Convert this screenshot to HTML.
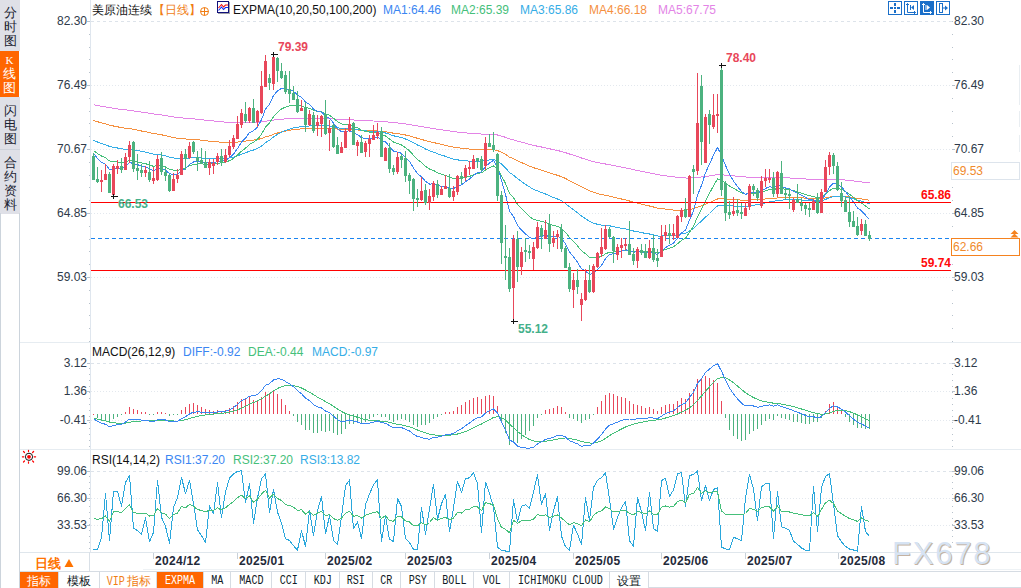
<!DOCTYPE html>
<html><head><meta charset="utf-8">
<style>
html,body{margin:0;padding:0;background:#fff;}
body{width:1021px;height:588px;overflow:hidden;position:relative;font-family:"Liberation Sans",sans-serif;}
.abs{position:absolute;}
.side{position:absolute;left:0;width:20px;background:#dfe0e7;color:#1a2230;font-size:13px;line-height:14px;text-align:center;}
.tab{position:absolute;top:572px;height:16px;border-right:1px solid #d6dce3;box-sizing:border-box;font-family:"Liberation Mono",monospace;font-size:12px;line-height:19px;text-align:center;color:#111a26;background:#fff;white-space:nowrap;overflow:hidden;}
.tab i{font-style:normal;display:inline-block;transform:scaleX(0.84);}
.tab.on{background:#ff6600;color:#fff;}
</style></head>
<body>
<!-- sidebar -->
<div class="side" style="top:0;height:51px;"><div style="padding-top:6px">分<br>时<br>图</div></div>
<div class="side" style="top:51px;height:46px;width:19px;background:#ff6600;color:#fff;"><div style="padding-top:2px"><span style="font-family:'Liberation Serif',serif;font-size:11px">K</span><br>线<br>图</div></div>
<div class="side" style="top:97px;height:52px;"><div style="padding-top:7px">闪<br>电<br>图</div></div>
<div class="side" style="top:149px;height:64px;border-top:1px solid #cdd2da;"><div style="padding-top:6px">合<br>约<br>资<br>料</div></div>

<svg class="abs" style="left:0;top:0" width="1021" height="588" viewBox="0 0 1021 588" font-family="Liberation Sans, sans-serif">
  <g shape-rendering="crispEdges">
    <rect x="0" y="213" width="1" height="375" fill="#ccd4dc"/>
    <rect x="19" y="213" width="1" height="375" fill="#ccd4dc"/>
    <!-- axis vertical -->
    <rect x="90" y="0" width="1" height="552" fill="#dfe6ee"/>
    <!-- separators -->
    <rect x="20" y="342" width="1001" height="1" fill="#e6ecf1"/>
    <rect x="20" y="449" width="1001" height="1" fill="#e6ecf1"/>
    <rect x="20" y="552" width="1001" height="1" fill="#dfe6ec"/>
    <rect x="89" y="552" width="1" height="20" fill="#d9e0e7"/>
    <rect x="143" y="569" width="878" height="1" fill="#eef2f5"/>
    <rect x="20" y="571" width="1001" height="1" fill="#d6dce3"/>
    <rect x="20" y="587" width="1001" height="1" fill="#d6dce3"/>
    <!-- grid main -->
    <line x1="91" y1="21.5" x2="952" y2="21.5" stroke="#dde3ea" stroke-dasharray="3,3"/>
    <line x1="91" y1="85.5" x2="952" y2="85.5" stroke="#e3e8ee" stroke-dasharray="1,2"/>
    <line x1="91" y1="149.5" x2="952" y2="149.5" stroke="#e3e8ee" stroke-dasharray="1,2"/>
    <line x1="91" y1="213.5" x2="952" y2="213.5" stroke="#e3e8ee" stroke-dasharray="1,2"/>
    <line x1="91" y1="277.5" x2="952" y2="277.5" stroke="#e3e8ee" stroke-dasharray="1,2"/>
    <!-- grid macd -->
    <line x1="91" y1="363.5" x2="952" y2="363.5" stroke="#dde3ea" stroke-dasharray="3,3"/>
    <line x1="91" y1="391.5" x2="952" y2="391.5" stroke="#e3e8ee" stroke-dasharray="1,2"/>
    <line x1="91" y1="420.5" x2="952" y2="420.5" stroke="#e3e8ee" stroke-dasharray="1,2"/>
    <!-- grid rsi -->
    <line x1="91" y1="471.5" x2="952" y2="471.5" stroke="#dde3ea" stroke-dasharray="3,3"/>
    <line x1="91" y1="498.5" x2="952" y2="498.5" stroke="#e3e8ee" stroke-dasharray="1,2"/>
    <line x1="91" y1="525.5" x2="952" y2="525.5" stroke="#e3e8ee" stroke-dasharray="1,2"/>
    <!-- right axis ticks -->
    <line x1="952.5" y1="21" x2="952.5" y2="342" stroke="#b8c2cc" stroke-dasharray="1,11.8"/>
    <line x1="952.5" y1="368" x2="952.5" y2="449" stroke="#b8c2cc" stroke-dasharray="1,5"/>
    <line x1="952.5" y1="476" x2="952.5" y2="548" stroke="#b8c2cc" stroke-dasharray="1,5"/>
    <line x1="89.5" y1="21" x2="89.5" y2="342" stroke="#b8c2cc" stroke-dasharray="1,11.8"/>
    <line x1="89.5" y1="368" x2="89.5" y2="449" stroke="#b8c2cc" stroke-dasharray="1,5"/>
    <line x1="89.5" y1="476" x2="89.5" y2="552" stroke="#b8c2cc" stroke-dasharray="1,5"/>
    <g fill="#b8c2cc"><rect x="87" y="21" width="3" height="1"/><rect x="87" y="85" width="3" height="1"/><rect x="952" y="85" width="3" height="1"/><rect x="87" y="149" width="3" height="1"/><rect x="952" y="149" width="3" height="1"/><rect x="87" y="213" width="3" height="1"/><rect x="952" y="213" width="3" height="1"/><rect x="87" y="277" width="3" height="1"/><rect x="952" y="277" width="3" height="1"/><rect x="87" y="363" width="3" height="1"/><rect x="952" y="363" width="3" height="1"/><rect x="87" y="391" width="3" height="1"/><rect x="952" y="391" width="3" height="1"/><rect x="87" y="420" width="3" height="1"/><rect x="952" y="420" width="3" height="1"/><rect x="87" y="471" width="3" height="1"/><rect x="952" y="471" width="3" height="1"/><rect x="87" y="498" width="3" height="1"/><rect x="952" y="498" width="3" height="1"/><rect x="87" y="525" width="3" height="1"/><rect x="952" y="525" width="3" height="1"/></g>
    <!-- date ticks -->
    <g fill="#c9d1d9">
      <rect x="153" y="553" width="1" height="6"/><rect x="237" y="553" width="1" height="6"/><rect x="325" y="553" width="1" height="6"/>
      <rect x="405" y="553" width="1" height="6"/><rect x="489" y="553" width="1" height="6"/><rect x="573" y="553" width="1" height="6"/>
      <rect x="661" y="553" width="1" height="6"/><rect x="745" y="553" width="1" height="6"/><rect x="838" y="553" width="1" height="6"/>
    </g>
  </g>
  <!-- MA lines -->
  <g shape-rendering="crispEdges"><polyline points="93.5,104.7 97.5,105.5 101.5,106.2 105.5,106.9 109.5,107.7 113.5,108.3 117.5,108.9 121.5,109.5 125.5,109.9 129.5,110.3 133.5,110.9 137.5,111.5 141.5,112.1 145.5,112.6 149.5,113.3 153.5,113.9 157.5,114.4 161.5,115.0 165.5,115.6 169.5,116.3 173.5,116.9 177.5,117.5 181.5,117.9 185.5,118.3 189.5,118.5 193.5,118.9 197.5,119.3 201.5,119.7 205.5,120.2 209.5,120.6 213.5,121.0 217.5,121.4 221.5,121.8 225.5,122.1 229.5,122.3 233.5,122.5 237.5,122.5 241.5,122.4 245.5,122.4 249.5,122.2 253.5,122.2 257.5,122.1 261.5,121.8 265.5,121.2 269.5,120.8 273.5,120.1 277.5,119.6 281.5,119.2 285.5,118.9 289.5,118.7 293.5,118.5 297.5,118.4 301.5,118.3 305.5,118.4 309.5,118.3 313.5,118.4 317.5,118.5 321.5,118.4 325.5,118.6 329.5,118.7 333.5,118.9 337.5,119.3 341.5,119.6 345.5,119.7 349.5,119.7 353.5,120.0 357.5,120.2 361.5,120.5 365.5,120.7 369.5,120.9 373.5,121.0 377.5,121.1 381.5,121.5 385.5,121.8 389.5,122.2 393.5,122.7 397.5,123.0 401.5,123.4 405.5,123.9 409.5,124.5 413.5,125.2 417.5,125.9 421.5,126.6 425.5,127.3 429.5,128.0 433.5,128.6 437.5,129.2 441.5,129.8 445.5,130.4 449.5,131.0 453.5,131.6 457.5,132.1 461.5,132.5 465.5,132.9 469.5,133.2 473.5,133.5 477.5,133.7 481.5,134.1 485.5,134.2 489.5,134.3 493.5,134.4 497.5,135.0 501.5,136.1 505.5,137.3 509.5,138.8 513.5,139.8 517.5,141.1 521.5,142.2 525.5,143.2 529.5,144.3 533.5,145.4 537.5,146.2 541.5,147.0 545.5,147.9 549.5,148.8 553.5,149.7 557.5,150.5 561.5,151.5 565.5,152.7 569.5,154.0 573.5,155.3 577.5,156.6 581.5,158.0 585.5,159.2 589.5,160.5 593.5,161.6 597.5,162.5 601.5,163.3 605.5,164.0 609.5,164.7 613.5,165.5 617.5,166.3 621.5,167.1 625.5,167.9 629.5,168.7 633.5,169.7 637.5,170.4 641.5,171.3 645.5,172.1 649.5,172.9 653.5,173.7 657.5,174.6 661.5,175.2 665.5,175.8 669.5,176.3 673.5,176.9 677.5,177.3 681.5,177.6 685.5,178.0 689.5,178.0 693.5,177.9 697.5,177.4 701.5,177.0 705.5,176.4 709.5,175.9 713.5,175.3 717.5,174.7 721.5,174.8 725.5,175.2 729.5,175.6 733.5,175.9 737.5,176.3 741.5,176.6 745.5,177.0 749.5,177.0 753.5,177.2 757.5,177.4 761.5,177.4 765.5,177.4 769.5,177.4 773.5,177.6 777.5,177.5 781.5,177.7 785.5,177.8 789.5,178.0 793.5,178.2 797.5,178.5 801.5,178.7 805.5,179.0 809.5,179.3 813.5,179.5 817.5,179.8 821.5,180.0 825.5,179.8 829.5,179.6 833.5,179.4 837.5,179.5 841.5,179.7 845.5,180.1 849.5,180.5 853.5,180.9 857.5,181.4 861.5,181.9 865.5,182.4 869.5,183.0" fill="none" stroke="#e384e6" stroke-width="1.0" stroke-linejoin="round" />
<polyline points="93.5,120.5 97.5,121.7 101.5,122.9 105.5,123.9 109.5,125.2 113.5,126.0 117.5,126.8 121.5,127.6 125.5,128.2 129.5,128.6 133.5,129.3 137.5,130.1 141.5,131.0 145.5,131.7 149.5,132.7 153.5,133.6 157.5,134.1 161.5,134.8 165.5,135.6 169.5,136.7 173.5,137.5 177.5,138.3 181.5,138.6 185.5,139.0 189.5,139.1 193.5,139.3 197.5,139.7 201.5,140.2 205.5,140.7 209.5,141.2 213.5,141.6 217.5,141.9 221.5,142.3 225.5,142.5 229.5,142.6 233.5,142.5 237.5,142.1 241.5,141.5 245.5,141.1 249.5,140.5 253.5,140.1 257.5,139.5 261.5,138.5 265.5,136.9 269.5,135.8 273.5,134.3 277.5,133.0 281.5,131.9 285.5,131.1 289.5,130.3 293.5,129.7 297.5,129.3 301.5,128.9 305.5,128.8 309.5,128.5 313.5,128.6 317.5,128.4 321.5,128.2 325.5,128.3 329.5,128.3 333.5,128.6 337.5,129.1 341.5,129.5 345.5,129.5 349.5,129.4 353.5,129.7 357.5,129.9 361.5,130.4 365.5,130.6 369.5,130.8 373.5,130.9 377.5,130.9 381.5,131.4 385.5,131.7 389.5,132.4 393.5,133.2 397.5,133.7 401.5,134.2 405.5,135.0 409.5,135.9 413.5,137.1 417.5,138.3 421.5,139.4 425.5,140.6 429.5,141.7 433.5,142.5 437.5,143.5 441.5,144.4 445.5,145.3 449.5,146.3 453.5,147.1 457.5,147.7 461.5,148.3 465.5,148.7 469.5,149.1 473.5,149.3 477.5,149.5 481.5,149.9 485.5,149.7 489.5,149.7 493.5,149.6 497.5,150.5 501.5,152.4 505.5,154.4 509.5,157.1 513.5,158.7 517.5,160.8 521.5,162.6 525.5,164.4 529.5,166.1 533.5,167.7 537.5,168.9 541.5,170.2 545.5,171.4 549.5,172.8 553.5,174.1 557.5,175.3 561.5,176.7 565.5,178.5 569.5,180.7 573.5,182.6 577.5,184.7 581.5,186.9 585.5,188.8 589.5,190.8 593.5,192.3 597.5,193.5 601.5,194.6 605.5,195.2 609.5,196.1 613.5,197.1 617.5,198.1 621.5,199.0 625.5,199.9 629.5,201.0 633.5,202.2 637.5,203.1 641.5,204.1 645.5,205.1 649.5,206.0 653.5,207.0 657.5,208.1 661.5,208.6 665.5,209.1 669.5,209.6 673.5,210.1 677.5,210.2 681.5,210.2 685.5,210.3 689.5,209.6 693.5,208.8 697.5,207.1 701.5,205.8 705.5,204.1 709.5,202.5 713.5,200.8 717.5,199.0 721.5,198.8 725.5,199.1 729.5,199.4 733.5,199.6 737.5,199.9 741.5,200.1 745.5,200.3 749.5,200.0 753.5,199.8 757.5,199.7 761.5,199.4 765.5,198.9 769.5,198.5 773.5,198.4 777.5,197.9 781.5,197.8 785.5,197.7 789.5,197.7 793.5,197.7 797.5,197.8 801.5,197.9 805.5,198.1 809.5,198.3 813.5,198.4 817.5,198.7 821.5,198.5 825.5,197.9 829.5,197.1 833.5,196.4 837.5,196.3 841.5,196.4 845.5,196.6 849.5,197.1 853.5,197.7 857.5,198.4 861.5,198.9 865.5,199.6 869.5,200.4" fill="none" stroke="#f5903f" stroke-width="1.0" stroke-linejoin="round" />
<polyline points="93.5,140.4 97.5,142.0 101.5,143.5 105.5,144.7 109.5,146.5 113.5,147.3 117.5,148.0 121.5,148.9 125.5,149.2 129.5,149.0 133.5,149.8 137.5,150.5 141.5,151.4 145.5,152.1 149.5,153.2 153.5,154.1 157.5,154.3 161.5,155.0 165.5,155.8 169.5,157.1 173.5,158.0 177.5,158.6 181.5,158.5 185.5,158.4 189.5,158.0 193.5,157.7 197.5,157.8 201.5,158.0 205.5,158.3 209.5,158.5 213.5,158.7 217.5,158.5 221.5,158.6 225.5,158.5 229.5,158.0 233.5,157.2 237.5,155.9 241.5,154.2 245.5,152.9 249.5,151.1 253.5,150.0 257.5,148.5 261.5,146.0 265.5,142.7 269.5,140.3 273.5,137.0 277.5,134.4 281.5,132.2 285.5,130.5 289.5,129.1 293.5,127.9 297.5,127.2 301.5,126.5 305.5,126.4 309.5,125.9 313.5,126.1 317.5,125.9 321.5,125.5 325.5,125.8 329.5,125.9 333.5,126.7 337.5,127.7 341.5,128.5 345.5,128.6 349.5,128.4 353.5,129.0 357.5,129.5 361.5,130.4 365.5,130.9 369.5,131.2 373.5,131.4 377.5,131.4 381.5,132.3 385.5,133.0 389.5,134.3 393.5,135.8 397.5,136.6 401.5,137.5 405.5,139.0 409.5,140.6 413.5,142.8 417.5,145.0 421.5,146.8 425.5,149.0 429.5,150.8 433.5,152.1 437.5,153.7 441.5,155.1 445.5,156.3 449.5,157.9 453.5,159.2 457.5,159.8 461.5,160.6 465.5,160.8 469.5,161.1 473.5,161.0 477.5,161.0 481.5,161.3 485.5,160.6 489.5,160.0 493.5,159.6 497.5,161.0 501.5,164.1 505.5,167.8 509.5,172.5 513.5,175.1 517.5,178.7 521.5,181.5 525.5,184.3 529.5,186.9 533.5,189.3 537.5,190.8 541.5,192.5 545.5,194.0 549.5,195.9 553.5,197.5 557.5,199.0 561.5,200.9 565.5,203.5 569.5,206.8 573.5,209.7 577.5,212.7 581.5,216.0 585.5,218.6 589.5,221.4 593.5,223.1 597.5,224.3 601.5,225.2 605.5,225.4 609.5,225.8 613.5,226.7 617.5,227.5 621.5,228.2 625.5,228.8 629.5,229.8 633.5,231.0 637.5,231.7 641.5,232.5 645.5,233.5 649.5,234.0 653.5,235.0 657.5,236.0 661.5,236.0 665.5,235.8 669.5,235.8 673.5,235.7 677.5,234.9 681.5,233.9 685.5,233.2 689.5,231.0 693.5,228.6 697.5,224.5 701.5,221.2 705.5,217.1 709.5,213.5 713.5,209.6 717.5,205.9 721.5,205.2 725.5,205.5 729.5,205.8 733.5,206.0 737.5,206.2 741.5,206.5 745.5,206.6 749.5,205.8 753.5,205.1 757.5,204.8 761.5,203.9 765.5,202.8 769.5,201.9 773.5,201.5 777.5,200.4 781.5,200.1 785.5,199.8 789.5,199.6 793.5,199.7 797.5,199.8 801.5,200.0 805.5,200.3 809.5,200.6 813.5,200.6 817.5,201.1 821.5,200.7 825.5,199.4 829.5,197.7 833.5,196.4 837.5,196.1 841.5,196.2 845.5,196.8 849.5,197.8 853.5,198.9 857.5,200.3 861.5,201.2 865.5,202.5 869.5,203.9" fill="none" stroke="#35ade6" stroke-width="1.0" stroke-linejoin="round" />
<polyline points="93.5,150.6 97.5,153.5 101.5,156.0 105.5,157.7 109.5,161.0 113.5,161.5 117.5,161.9 121.5,162.6 125.5,162.0 129.5,160.4 133.5,161.1 137.5,162.0 141.5,162.9 145.5,163.6 149.5,165.1 153.5,166.3 157.5,165.6 161.5,166.1 165.5,167.0 169.5,169.2 173.5,170.1 177.5,170.6 181.5,169.0 185.5,167.9 189.5,165.9 193.5,164.4 197.5,164.0 201.5,163.9 205.5,164.2 209.5,164.0 213.5,163.9 217.5,163.2 221.5,162.9 225.5,162.2 229.5,160.6 233.5,158.5 237.5,155.2 241.5,151.2 245.5,148.2 249.5,144.4 253.5,142.3 257.5,139.3 261.5,134.2 265.5,127.2 269.5,122.9 273.5,116.6 277.5,112.2 281.5,108.9 285.5,107.2 289.5,105.8 293.5,105.2 297.5,105.7 301.5,105.9 305.5,107.7 309.5,108.3 313.5,110.3 317.5,111.4 321.5,111.9 325.5,113.9 329.5,115.2 333.5,118.2 337.5,121.5 341.5,123.9 345.5,124.6 349.5,124.5 353.5,126.4 357.5,127.9 361.5,130.2 365.5,131.4 369.5,132.1 373.5,132.4 377.5,132.4 381.5,134.6 385.5,135.9 389.5,138.9 393.5,142.0 397.5,143.4 401.5,144.9 405.5,147.8 409.5,150.8 413.5,155.3 417.5,159.5 421.5,162.5 425.5,166.3 429.5,169.1 433.5,170.4 437.5,172.7 441.5,174.2 445.5,175.3 449.5,177.3 453.5,178.6 457.5,178.4 461.5,178.3 465.5,177.3 469.5,176.4 473.5,174.7 477.5,173.3 481.5,172.9 485.5,170.0 489.5,167.8 493.5,166.0 497.5,168.7 501.5,175.7 505.5,183.5 509.5,193.4 513.5,197.8 517.5,204.3 521.5,208.8 525.5,212.8 529.5,216.6 533.5,219.5 537.5,220.2 541.5,221.6 545.5,222.4 549.5,224.3 553.5,225.6 557.5,226.4 561.5,228.5 565.5,232.2 569.5,237.5 573.5,241.5 577.5,245.8 581.5,250.8 585.5,253.6 589.5,257.2 593.5,258.0 597.5,257.5 601.5,256.5 605.5,253.9 609.5,252.2 613.5,252.0 617.5,251.5 621.5,250.9 625.5,250.2 629.5,250.6 633.5,251.5 637.5,251.3 641.5,251.3 645.5,251.9 649.5,251.5 653.5,252.2 657.5,253.0 661.5,251.3 665.5,249.5 669.5,248.1 673.5,246.7 677.5,243.8 681.5,240.5 685.5,238.2 689.5,232.3 693.5,226.4 697.5,216.6 701.5,209.4 705.5,200.6 709.5,193.3 713.5,185.8 717.5,179.0 721.5,180.0 725.5,183.0 729.5,186.0 733.5,188.3 737.5,190.6 741.5,192.7 745.5,194.2 749.5,193.4 753.5,193.0 757.5,193.4 761.5,192.2 765.5,190.8 769.5,189.6 773.5,189.9 777.5,188.2 781.5,188.7 785.5,189.2 789.5,189.7 793.5,190.7 797.5,191.8 801.5,193.1 805.5,194.5 809.5,195.9 813.5,196.3 817.5,197.8 821.5,197.3 825.5,194.4 829.5,190.6 833.5,188.2 837.5,188.3 841.5,189.4 845.5,191.5 849.5,194.3 853.5,197.3 857.5,200.8 861.5,203.0 865.5,206.0 869.5,209.1" fill="none" stroke="#45c07a" stroke-width="1.0" stroke-linejoin="round" />
<polyline points="93.5,153.3 97.5,158.3 101.5,162.3 105.5,164.4 109.5,169.4 113.5,168.8 117.5,168.3 121.5,168.4 125.5,166.3 129.5,162.5 133.5,163.5 137.5,164.7 141.5,166.0 145.5,166.7 149.5,169.0 153.5,170.6 157.5,168.5 161.5,168.9 165.5,170.0 169.5,173.7 173.5,174.6 177.5,174.7 181.5,170.9 185.5,168.6 189.5,164.5 193.5,162.0 197.5,161.7 201.5,161.9 205.5,162.8 209.5,162.7 213.5,162.7 217.5,161.5 221.5,161.4 225.5,160.3 229.5,157.7 233.5,154.1 237.5,148.6 241.5,142.1 245.5,138.1 249.5,132.6 253.5,130.7 257.5,127.1 261.5,119.6 265.5,109.0 269.5,104.1 273.5,95.5 277.5,90.9 281.5,88.4 285.5,88.8 289.5,89.6 293.5,91.3 297.5,94.9 301.5,97.3 305.5,102.1 309.5,104.3 313.5,109.0 317.5,111.3 321.5,112.2 325.5,116.0 329.5,118.2 333.5,123.2 337.5,128.6 341.5,132.0 345.5,131.8 349.5,130.4 353.5,132.9 357.5,134.5 361.5,137.7 365.5,138.7 369.5,138.7 373.5,138.0 377.5,136.9 381.5,140.4 385.5,141.8 389.5,146.6 393.5,151.0 397.5,152.1 401.5,153.3 405.5,157.3 409.5,161.4 413.5,168.1 417.5,173.7 421.5,176.8 425.5,181.4 429.5,184.1 433.5,183.9 437.5,185.7 441.5,186.3 445.5,186.3 449.5,188.0 453.5,188.6 457.5,186.3 461.5,184.8 465.5,181.7 469.5,179.0 473.5,175.4 477.5,172.6 481.5,171.9 485.5,166.7 489.5,162.9 493.5,160.4 497.5,166.7 501.5,180.4 505.5,194.3 509.5,211.3 513.5,216.4 517.5,225.4 521.5,230.2 525.5,234.0 529.5,237.3 533.5,239.0 537.5,236.9 541.5,236.5 545.5,235.3 549.5,236.7 553.5,237.0 557.5,236.4 561.5,238.5 565.5,243.7 569.5,251.8 573.5,256.9 577.5,262.2 581.5,268.9 585.5,270.9 589.5,274.6 593.5,273.0 597.5,269.4 601.5,265.3 605.5,258.7 609.5,254.6 613.5,253.7 617.5,252.5 621.5,251.1 625.5,249.8 629.5,250.6 633.5,252.3 637.5,251.7 641.5,251.8 645.5,252.7 649.5,251.9 653.5,253.2 657.5,254.4 661.5,251.1 665.5,247.6 669.5,245.3 673.5,243.1 677.5,238.1 681.5,233.0 685.5,229.9 689.5,220.1 693.5,211.2 697.5,195.2 701.5,185.3 705.5,172.9 709.5,164.0 713.5,155.1 717.5,147.6 721.5,155.1 725.5,165.5 729.5,174.3 733.5,181.0 737.5,186.6 741.5,191.4 745.5,194.4 749.5,192.9 753.5,192.2 757.5,193.1 761.5,190.9 765.5,188.5 769.5,186.6 773.5,187.8 777.5,184.9 781.5,186.4 785.5,187.8 789.5,189.1 793.5,191.1 797.5,193.1 801.5,195.2 805.5,197.5 809.5,199.6 813.5,199.9 817.5,202.1 821.5,200.2 825.5,194.2 829.5,187.1 833.5,183.1 837.5,184.1 841.5,187.0 845.5,191.4 849.5,196.8 853.5,202.1 857.5,207.9 861.5,210.8 865.5,215.2 869.5,219.4" fill="none" stroke="#3a86f2" stroke-width="1.0" stroke-linejoin="round" /></g>
  <!-- support lines -->
  <g shape-rendering="crispEdges">
    <rect x="91" y="202" width="860" height="1" fill="#ff0000"/>
    <rect x="91" y="270" width="860" height="1" fill="#ff0000"/>
    <line x1="91" y1="238.5" x2="952" y2="238.5" stroke="#1a84f0" stroke-width="1" stroke-dasharray="4,3"/>
  </g>
  <g shape-rendering="crispEdges"><rect x="93" y="153" width="1" height="27" fill="#4cb27f"/>
<rect x="92" y="156" width="3" height="24" fill="#4cb27f"/>
<rect x="97" y="167" width="1" height="16" fill="#4cb27f"/>
<rect x="96" y="179" width="3" height="3" fill="#4cb27f"/>
<rect x="101" y="170" width="1" height="22" fill="#e8475a"/>
<rect x="100" y="180" width="3" height="2" fill="#e8475a"/>
<rect x="105" y="164" width="1" height="16" fill="#e8475a"/>
<rect x="104" y="174" width="3" height="6" fill="#e8475a"/>
<rect x="109" y="172" width="1" height="21" fill="#4cb27f"/>
<rect x="108" y="174" width="3" height="19" fill="#4cb27f"/>
<rect x="113" y="164" width="1" height="31" fill="#e8475a"/>
<rect x="112" y="166" width="3" height="29" fill="#e8475a"/>
<rect x="117" y="160" width="1" height="14" fill="#e8475a"/>
<rect x="116" y="166" width="3" height="3" fill="#e8475a"/>
<rect x="121" y="158" width="1" height="15" fill="#4cb27f"/>
<rect x="120" y="166" width="3" height="4" fill="#4cb27f"/>
<rect x="125" y="153" width="1" height="17" fill="#e8475a"/>
<rect x="124" y="157" width="3" height="13" fill="#e8475a"/>
<rect x="129" y="141" width="1" height="22" fill="#e8475a"/>
<rect x="128" y="145" width="3" height="12" fill="#e8475a"/>
<rect x="133" y="141" width="1" height="31" fill="#4cb27f"/>
<rect x="132" y="142" width="3" height="27" fill="#4cb27f"/>
<rect x="137" y="154" width="1" height="26" fill="#4cb27f"/>
<rect x="136" y="168" width="3" height="3" fill="#4cb27f"/>
<rect x="141" y="164" width="1" height="13" fill="#4cb27f"/>
<rect x="140" y="170" width="3" height="3" fill="#4cb27f"/>
<rect x="145" y="166" width="1" height="11" fill="#e8475a"/>
<rect x="144" y="170" width="3" height="3" fill="#e8475a"/>
<rect x="149" y="161" width="1" height="21" fill="#4cb27f"/>
<rect x="148" y="172" width="3" height="8" fill="#4cb27f"/>
<rect x="153" y="167" width="1" height="17" fill="#e8475a"/>
<rect x="152" y="178" width="3" height="3" fill="#e8475a"/>
<rect x="157" y="155" width="1" height="26" fill="#e8475a"/>
<rect x="156" y="159" width="3" height="21" fill="#e8475a"/>
<rect x="161" y="152" width="1" height="23" fill="#4cb27f"/>
<rect x="160" y="158" width="3" height="14" fill="#4cb27f"/>
<rect x="165" y="167" width="1" height="14" fill="#4cb27f"/>
<rect x="164" y="172" width="3" height="4" fill="#4cb27f"/>
<rect x="169" y="174" width="1" height="18" fill="#4cb27f"/>
<rect x="168" y="175" width="3" height="16" fill="#4cb27f"/>
<rect x="173" y="173" width="1" height="18" fill="#e8475a"/>
<rect x="172" y="179" width="3" height="12" fill="#e8475a"/>
<rect x="177" y="169" width="1" height="14" fill="#e8475a"/>
<rect x="176" y="175" width="3" height="4" fill="#e8475a"/>
<rect x="181" y="151" width="1" height="24" fill="#e8475a"/>
<rect x="180" y="154" width="3" height="21" fill="#e8475a"/>
<rect x="185" y="149" width="1" height="21" fill="#4cb27f"/>
<rect x="184" y="154" width="3" height="5" fill="#4cb27f"/>
<rect x="189" y="142" width="1" height="17" fill="#e8475a"/>
<rect x="188" y="146" width="3" height="12" fill="#e8475a"/>
<rect x="193" y="141" width="1" height="13" fill="#4cb27f"/>
<rect x="192" y="142" width="3" height="10" fill="#4cb27f"/>
<rect x="197" y="151" width="1" height="20" fill="#4cb27f"/>
<rect x="196" y="157" width="3" height="4" fill="#4cb27f"/>
<rect x="201" y="148" width="1" height="16" fill="#4cb27f"/>
<rect x="200" y="160" width="3" height="4" fill="#4cb27f"/>
<rect x="205" y="151" width="1" height="17" fill="#4cb27f"/>
<rect x="204" y="162" width="3" height="6" fill="#4cb27f"/>
<rect x="209" y="159" width="1" height="16" fill="#e8475a"/>
<rect x="208" y="162" width="3" height="6" fill="#e8475a"/>
<rect x="213" y="159" width="1" height="15" fill="#e8475a"/>
<rect x="212" y="163" width="3" height="3" fill="#e8475a"/>
<rect x="217" y="153" width="1" height="12" fill="#e8475a"/>
<rect x="216" y="156" width="3" height="6" fill="#e8475a"/>
<rect x="221" y="149" width="1" height="17" fill="#4cb27f"/>
<rect x="220" y="156" width="3" height="6" fill="#4cb27f"/>
<rect x="225" y="149" width="1" height="14" fill="#e8475a"/>
<rect x="224" y="155" width="3" height="7" fill="#e8475a"/>
<rect x="229" y="140" width="1" height="17" fill="#e8475a"/>
<rect x="228" y="146" width="3" height="9" fill="#e8475a"/>
<rect x="233" y="135" width="1" height="14" fill="#e8475a"/>
<rect x="232" y="138" width="3" height="9" fill="#e8475a"/>
<rect x="237" y="116" width="1" height="23" fill="#e8475a"/>
<rect x="236" y="124" width="3" height="15" fill="#e8475a"/>
<rect x="241" y="109" width="1" height="19" fill="#e8475a"/>
<rect x="240" y="113" width="3" height="12" fill="#e8475a"/>
<rect x="245" y="102" width="1" height="21" fill="#4cb27f"/>
<rect x="244" y="114" width="3" height="7" fill="#4cb27f"/>
<rect x="249" y="107" width="1" height="16" fill="#e8475a"/>
<rect x="248" y="108" width="3" height="13" fill="#e8475a"/>
<rect x="253" y="99" width="1" height="24" fill="#4cb27f"/>
<rect x="252" y="108" width="3" height="15" fill="#4cb27f"/>
<rect x="257" y="110" width="1" height="17" fill="#e8475a"/>
<rect x="256" y="111" width="3" height="11" fill="#e8475a"/>
<rect x="261" y="71" width="1" height="43" fill="#e8475a"/>
<rect x="260" y="86" width="3" height="27" fill="#e8475a"/>
<rect x="265" y="55" width="1" height="32" fill="#e8475a"/>
<rect x="264" y="61" width="3" height="26" fill="#e8475a"/>
<rect x="269" y="74" width="1" height="16" fill="#4cb27f"/>
<rect x="268" y="78" width="3" height="5" fill="#4cb27f"/>
<rect x="273" y="54" width="1" height="36" fill="#e8475a"/>
<rect x="272" y="57" width="3" height="27" fill="#e8475a"/>
<rect x="277" y="57" width="1" height="25" fill="#4cb27f"/>
<rect x="276" y="58" width="3" height="13" fill="#4cb27f"/>
<rect x="281" y="63" width="1" height="16" fill="#4cb27f"/>
<rect x="280" y="71" width="3" height="7" fill="#4cb27f"/>
<rect x="285" y="71" width="1" height="23" fill="#4cb27f"/>
<rect x="284" y="75" width="3" height="17" fill="#4cb27f"/>
<rect x="289" y="71" width="1" height="32" fill="#4cb27f"/>
<rect x="288" y="89" width="3" height="5" fill="#4cb27f"/>
<rect x="293" y="86" width="1" height="14" fill="#4cb27f"/>
<rect x="292" y="93" width="3" height="7" fill="#4cb27f"/>
<rect x="297" y="91" width="1" height="22" fill="#4cb27f"/>
<rect x="296" y="99" width="3" height="13" fill="#4cb27f"/>
<rect x="301" y="100" width="1" height="11" fill="#e8475a"/>
<rect x="300" y="108" width="3" height="3" fill="#e8475a"/>
<rect x="305" y="102" width="1" height="30" fill="#4cb27f"/>
<rect x="304" y="107" width="3" height="18" fill="#4cb27f"/>
<rect x="309" y="110" width="1" height="16" fill="#e8475a"/>
<rect x="308" y="114" width="3" height="11" fill="#e8475a"/>
<rect x="313" y="112" width="1" height="21" fill="#4cb27f"/>
<rect x="312" y="115" width="3" height="16" fill="#4cb27f"/>
<rect x="317" y="115" width="1" height="21" fill="#e8475a"/>
<rect x="316" y="122" width="3" height="4" fill="#e8475a"/>
<rect x="321" y="115" width="1" height="22" fill="#e8475a"/>
<rect x="320" y="116" width="3" height="8" fill="#e8475a"/>
<rect x="325" y="100" width="1" height="35" fill="#4cb27f"/>
<rect x="324" y="114" width="3" height="20" fill="#4cb27f"/>
<rect x="329" y="120" width="1" height="31" fill="#e8475a"/>
<rect x="328" y="128" width="3" height="5" fill="#e8475a"/>
<rect x="333" y="124" width="1" height="24" fill="#4cb27f"/>
<rect x="332" y="125" width="3" height="22" fill="#4cb27f"/>
<rect x="337" y="137" width="1" height="17" fill="#4cb27f"/>
<rect x="336" y="145" width="3" height="9" fill="#4cb27f"/>
<rect x="341" y="142" width="1" height="11" fill="#e8475a"/>
<rect x="340" y="147" width="3" height="6" fill="#e8475a"/>
<rect x="345" y="128" width="1" height="20" fill="#e8475a"/>
<rect x="344" y="131" width="3" height="17" fill="#e8475a"/>
<rect x="349" y="117" width="1" height="15" fill="#e8475a"/>
<rect x="348" y="124" width="3" height="7" fill="#e8475a"/>
<rect x="353" y="122" width="1" height="23" fill="#4cb27f"/>
<rect x="352" y="123" width="3" height="22" fill="#4cb27f"/>
<rect x="357" y="140" width="1" height="16" fill="#e8475a"/>
<rect x="356" y="142" width="3" height="4" fill="#e8475a"/>
<rect x="361" y="135" width="1" height="18" fill="#4cb27f"/>
<rect x="360" y="142" width="3" height="11" fill="#4cb27f"/>
<rect x="365" y="141" width="1" height="16" fill="#e8475a"/>
<rect x="364" y="143" width="3" height="9" fill="#e8475a"/>
<rect x="369" y="135" width="1" height="22" fill="#e8475a"/>
<rect x="368" y="139" width="3" height="5" fill="#e8475a"/>
<rect x="373" y="125" width="1" height="15" fill="#e8475a"/>
<rect x="372" y="135" width="3" height="5" fill="#e8475a"/>
<rect x="377" y="123" width="1" height="16" fill="#e8475a"/>
<rect x="376" y="132" width="3" height="4" fill="#e8475a"/>
<rect x="381" y="127" width="1" height="30" fill="#4cb27f"/>
<rect x="380" y="131" width="3" height="26" fill="#4cb27f"/>
<rect x="385" y="147" width="1" height="14" fill="#e8475a"/>
<rect x="384" y="148" width="3" height="13" fill="#e8475a"/>
<rect x="389" y="143" width="1" height="30" fill="#4cb27f"/>
<rect x="388" y="148" width="3" height="21" fill="#4cb27f"/>
<rect x="393" y="165" width="1" height="10" fill="#4cb27f"/>
<rect x="392" y="168" width="3" height="4" fill="#4cb27f"/>
<rect x="397" y="152" width="1" height="22" fill="#e8475a"/>
<rect x="396" y="157" width="3" height="15" fill="#e8475a"/>
<rect x="401" y="154" width="1" height="14" fill="#4cb27f"/>
<rect x="400" y="156" width="3" height="4" fill="#4cb27f"/>
<rect x="405" y="151" width="1" height="31" fill="#4cb27f"/>
<rect x="404" y="158" width="3" height="18" fill="#4cb27f"/>
<rect x="409" y="173" width="1" height="21" fill="#4cb27f"/>
<rect x="408" y="175" width="3" height="6" fill="#4cb27f"/>
<rect x="413" y="178" width="1" height="33" fill="#4cb27f"/>
<rect x="412" y="179" width="3" height="20" fill="#4cb27f"/>
<rect x="417" y="189" width="1" height="18" fill="#4cb27f"/>
<rect x="416" y="198" width="3" height="2" fill="#4cb27f"/>
<rect x="421" y="177" width="1" height="24" fill="#e8475a"/>
<rect x="420" y="191" width="3" height="9" fill="#e8475a"/>
<rect x="425" y="184" width="1" height="21" fill="#4cb27f"/>
<rect x="424" y="190" width="3" height="13" fill="#4cb27f"/>
<rect x="429" y="189" width="1" height="21" fill="#e8475a"/>
<rect x="428" y="196" width="3" height="7" fill="#e8475a"/>
<rect x="433" y="181" width="1" height="20" fill="#e8475a"/>
<rect x="432" y="183" width="3" height="14" fill="#e8475a"/>
<rect x="437" y="180" width="1" height="18" fill="#4cb27f"/>
<rect x="436" y="184" width="3" height="11" fill="#4cb27f"/>
<rect x="441" y="186" width="1" height="9" fill="#e8475a"/>
<rect x="440" y="189" width="3" height="6" fill="#e8475a"/>
<rect x="445" y="175" width="1" height="14" fill="#e8475a"/>
<rect x="444" y="186" width="3" height="3" fill="#e8475a"/>
<rect x="449" y="174" width="1" height="24" fill="#4cb27f"/>
<rect x="448" y="188" width="3" height="9" fill="#4cb27f"/>
<rect x="453" y="186" width="1" height="15" fill="#e8475a"/>
<rect x="452" y="191" width="3" height="6" fill="#e8475a"/>
<rect x="457" y="175" width="1" height="20" fill="#e8475a"/>
<rect x="456" y="176" width="3" height="16" fill="#e8475a"/>
<rect x="461" y="172" width="1" height="12" fill="#4cb27f"/>
<rect x="460" y="176" width="3" height="3" fill="#4cb27f"/>
<rect x="465" y="165" width="1" height="16" fill="#e8475a"/>
<rect x="464" y="168" width="3" height="9" fill="#e8475a"/>
<rect x="469" y="161" width="1" height="14" fill="#e8475a"/>
<rect x="468" y="167" width="3" height="2" fill="#e8475a"/>
<rect x="473" y="155" width="1" height="14" fill="#e8475a"/>
<rect x="472" y="159" width="3" height="10" fill="#e8475a"/>
<rect x="477" y="158" width="1" height="10" fill="#4cb27f"/>
<rect x="476" y="158" width="3" height="3" fill="#4cb27f"/>
<rect x="481" y="156" width="1" height="15" fill="#4cb27f"/>
<rect x="480" y="159" width="3" height="11" fill="#4cb27f"/>
<rect x="485" y="137" width="1" height="33" fill="#e8475a"/>
<rect x="484" y="143" width="3" height="23" fill="#e8475a"/>
<rect x="489" y="134" width="1" height="13" fill="#4cb27f"/>
<rect x="488" y="143" width="3" height="4" fill="#4cb27f"/>
<rect x="493" y="132" width="1" height="20" fill="#4cb27f"/>
<rect x="492" y="145" width="3" height="5" fill="#4cb27f"/>
<rect x="497" y="153" width="1" height="48" fill="#4cb27f"/>
<rect x="496" y="154" width="3" height="42" fill="#4cb27f"/>
<rect x="501" y="191" width="1" height="73" fill="#4cb27f"/>
<rect x="500" y="195" width="3" height="48" fill="#4cb27f"/>
<rect x="505" y="225" width="1" height="55" fill="#4cb27f"/>
<rect x="504" y="256" width="3" height="2" fill="#4cb27f"/>
<rect x="509" y="248" width="1" height="44" fill="#4cb27f"/>
<rect x="508" y="257" width="3" height="32" fill="#4cb27f"/>
<rect x="513" y="235" width="1" height="87" fill="#e8475a"/>
<rect x="512" y="239" width="3" height="49" fill="#e8475a"/>
<rect x="517" y="231" width="1" height="51" fill="#4cb27f"/>
<rect x="516" y="239" width="3" height="28" fill="#4cb27f"/>
<rect x="521" y="247" width="1" height="28" fill="#e8475a"/>
<rect x="520" y="252" width="3" height="15" fill="#e8475a"/>
<rect x="525" y="238" width="1" height="24" fill="#4cb27f"/>
<rect x="524" y="250" width="3" height="2" fill="#4cb27f"/>
<rect x="529" y="245" width="1" height="14" fill="#4cb27f"/>
<rect x="528" y="251" width="3" height="2" fill="#4cb27f"/>
<rect x="533" y="242" width="1" height="28" fill="#e8475a"/>
<rect x="532" y="247" width="3" height="12" fill="#e8475a"/>
<rect x="537" y="222" width="1" height="27" fill="#e8475a"/>
<rect x="536" y="227" width="3" height="21" fill="#e8475a"/>
<rect x="541" y="225" width="1" height="24" fill="#4cb27f"/>
<rect x="540" y="228" width="3" height="8" fill="#4cb27f"/>
<rect x="545" y="220" width="1" height="19" fill="#e8475a"/>
<rect x="544" y="230" width="3" height="9" fill="#e8475a"/>
<rect x="549" y="214" width="1" height="38" fill="#4cb27f"/>
<rect x="548" y="224" width="3" height="20" fill="#4cb27f"/>
<rect x="553" y="231" width="1" height="16" fill="#e8475a"/>
<rect x="552" y="238" width="3" height="5" fill="#e8475a"/>
<rect x="557" y="230" width="1" height="19" fill="#e8475a"/>
<rect x="556" y="234" width="3" height="3" fill="#e8475a"/>
<rect x="561" y="224" width="1" height="28" fill="#4cb27f"/>
<rect x="560" y="229" width="3" height="20" fill="#4cb27f"/>
<rect x="565" y="246" width="1" height="22" fill="#4cb27f"/>
<rect x="564" y="248" width="3" height="20" fill="#4cb27f"/>
<rect x="569" y="263" width="1" height="29" fill="#4cb27f"/>
<rect x="568" y="267" width="3" height="22" fill="#4cb27f"/>
<rect x="573" y="273" width="1" height="35" fill="#e8475a"/>
<rect x="572" y="280" width="3" height="10" fill="#e8475a"/>
<rect x="577" y="269" width="1" height="25" fill="#4cb27f"/>
<rect x="576" y="280" width="3" height="7" fill="#4cb27f"/>
<rect x="581" y="293" width="1" height="28" fill="#e8475a"/>
<rect x="580" y="299" width="3" height="6" fill="#e8475a"/>
<rect x="585" y="269" width="1" height="32" fill="#e8475a"/>
<rect x="584" y="280" width="3" height="20" fill="#e8475a"/>
<rect x="589" y="265" width="1" height="28" fill="#4cb27f"/>
<rect x="588" y="280" width="3" height="12" fill="#4cb27f"/>
<rect x="593" y="264" width="1" height="29" fill="#e8475a"/>
<rect x="592" y="266" width="3" height="26" fill="#e8475a"/>
<rect x="597" y="252" width="1" height="16" fill="#e8475a"/>
<rect x="596" y="253" width="3" height="14" fill="#e8475a"/>
<rect x="601" y="228" width="1" height="29" fill="#e8475a"/>
<rect x="600" y="247" width="3" height="7" fill="#e8475a"/>
<rect x="605" y="225" width="1" height="25" fill="#e8475a"/>
<rect x="604" y="229" width="3" height="20" fill="#e8475a"/>
<rect x="609" y="227" width="1" height="11" fill="#4cb27f"/>
<rect x="608" y="229" width="3" height="8" fill="#4cb27f"/>
<rect x="613" y="236" width="1" height="27" fill="#4cb27f"/>
<rect x="612" y="237" width="3" height="14" fill="#4cb27f"/>
<rect x="617" y="244" width="1" height="16" fill="#e8475a"/>
<rect x="616" y="247" width="3" height="8" fill="#e8475a"/>
<rect x="621" y="238" width="1" height="20" fill="#e8475a"/>
<rect x="620" y="245" width="3" height="3" fill="#e8475a"/>
<rect x="625" y="238" width="1" height="12" fill="#e8475a"/>
<rect x="624" y="244" width="3" height="2" fill="#e8475a"/>
<rect x="629" y="221" width="1" height="34" fill="#4cb27f"/>
<rect x="628" y="244" width="3" height="11" fill="#4cb27f"/>
<rect x="633" y="248" width="1" height="17" fill="#4cb27f"/>
<rect x="632" y="254" width="3" height="7" fill="#4cb27f"/>
<rect x="637" y="247" width="1" height="21" fill="#e8475a"/>
<rect x="636" y="249" width="3" height="12" fill="#e8475a"/>
<rect x="641" y="244" width="1" height="11" fill="#4cb27f"/>
<rect x="640" y="250" width="3" height="3" fill="#4cb27f"/>
<rect x="645" y="244" width="1" height="14" fill="#4cb27f"/>
<rect x="644" y="251" width="3" height="7" fill="#4cb27f"/>
<rect x="649" y="240" width="1" height="19" fill="#e8475a"/>
<rect x="648" y="248" width="3" height="10" fill="#e8475a"/>
<rect x="653" y="235" width="1" height="27" fill="#4cb27f"/>
<rect x="652" y="248" width="3" height="12" fill="#4cb27f"/>
<rect x="657" y="249" width="1" height="18" fill="#4cb27f"/>
<rect x="656" y="258" width="3" height="3" fill="#4cb27f"/>
<rect x="661" y="225" width="1" height="32" fill="#e8475a"/>
<rect x="660" y="236" width="3" height="21" fill="#e8475a"/>
<rect x="665" y="225" width="1" height="16" fill="#e8475a"/>
<rect x="664" y="232" width="3" height="4" fill="#e8475a"/>
<rect x="669" y="224" width="1" height="20" fill="#4cb27f"/>
<rect x="668" y="233" width="3" height="3" fill="#4cb27f"/>
<rect x="673" y="224" width="1" height="16" fill="#e8475a"/>
<rect x="672" y="233" width="3" height="3" fill="#e8475a"/>
<rect x="677" y="215" width="1" height="23" fill="#e8475a"/>
<rect x="676" y="216" width="3" height="22" fill="#e8475a"/>
<rect x="681" y="208" width="1" height="14" fill="#e8475a"/>
<rect x="680" y="210" width="3" height="7" fill="#e8475a"/>
<rect x="685" y="198" width="1" height="20" fill="#4cb27f"/>
<rect x="684" y="209" width="3" height="8" fill="#4cb27f"/>
<rect x="689" y="175" width="1" height="42" fill="#e8475a"/>
<rect x="688" y="176" width="3" height="41" fill="#e8475a"/>
<rect x="693" y="165" width="1" height="29" fill="#4cb27f"/>
<rect x="692" y="169" width="3" height="3" fill="#4cb27f"/>
<rect x="697" y="73" width="1" height="102" fill="#e8475a"/>
<rect x="696" y="123" width="3" height="48" fill="#e8475a"/>
<rect x="701" y="75" width="1" height="90" fill="#4cb27f"/>
<rect x="700" y="86" width="3" height="56" fill="#4cb27f"/>
<rect x="705" y="114" width="1" height="49" fill="#e8475a"/>
<rect x="704" y="117" width="3" height="46" fill="#e8475a"/>
<rect x="709" y="110" width="1" height="34" fill="#4cb27f"/>
<rect x="708" y="114" width="3" height="11" fill="#4cb27f"/>
<rect x="713" y="94" width="1" height="35" fill="#e8475a"/>
<rect x="712" y="115" width="3" height="12" fill="#e8475a"/>
<rect x="717" y="94" width="1" height="39" fill="#e8475a"/>
<rect x="716" y="114" width="3" height="2" fill="#e8475a"/>
<rect x="721" y="65" width="1" height="131" fill="#4cb27f"/>
<rect x="720" y="70" width="3" height="120" fill="#4cb27f"/>
<rect x="725" y="181" width="1" height="40" fill="#4cb27f"/>
<rect x="724" y="183" width="3" height="30" fill="#4cb27f"/>
<rect x="729" y="201" width="1" height="18" fill="#4cb27f"/>
<rect x="728" y="212" width="3" height="3" fill="#4cb27f"/>
<rect x="733" y="197" width="1" height="19" fill="#e8475a"/>
<rect x="732" y="211" width="3" height="3" fill="#e8475a"/>
<rect x="737" y="199" width="1" height="17" fill="#4cb27f"/>
<rect x="736" y="210" width="3" height="3" fill="#4cb27f"/>
<rect x="741" y="203" width="1" height="16" fill="#4cb27f"/>
<rect x="740" y="212" width="3" height="2" fill="#4cb27f"/>
<rect x="745" y="202" width="1" height="14" fill="#e8475a"/>
<rect x="744" y="208" width="3" height="8" fill="#e8475a"/>
<rect x="749" y="184" width="1" height="26" fill="#e8475a"/>
<rect x="748" y="186" width="3" height="21" fill="#e8475a"/>
<rect x="753" y="184" width="1" height="12" fill="#4cb27f"/>
<rect x="752" y="186" width="3" height="4" fill="#4cb27f"/>
<rect x="757" y="188" width="1" height="13" fill="#4cb27f"/>
<rect x="756" y="190" width="3" height="8" fill="#4cb27f"/>
<rect x="761" y="176" width="1" height="32" fill="#e8475a"/>
<rect x="760" y="181" width="3" height="25" fill="#e8475a"/>
<rect x="765" y="169" width="1" height="18" fill="#e8475a"/>
<rect x="764" y="178" width="3" height="3" fill="#e8475a"/>
<rect x="769" y="169" width="1" height="14" fill="#e8475a"/>
<rect x="768" y="178" width="3" height="2" fill="#e8475a"/>
<rect x="773" y="172" width="1" height="25" fill="#4cb27f"/>
<rect x="772" y="178" width="3" height="16" fill="#4cb27f"/>
<rect x="777" y="171" width="1" height="26" fill="#e8475a"/>
<rect x="776" y="172" width="3" height="22" fill="#e8475a"/>
<rect x="781" y="161" width="1" height="33" fill="#4cb27f"/>
<rect x="780" y="173" width="3" height="21" fill="#4cb27f"/>
<rect x="785" y="188" width="1" height="12" fill="#4cb27f"/>
<rect x="784" y="193" width="3" height="2" fill="#4cb27f"/>
<rect x="789" y="188" width="1" height="21" fill="#4cb27f"/>
<rect x="788" y="194" width="3" height="2" fill="#4cb27f"/>
<rect x="793" y="198" width="1" height="14" fill="#e8475a"/>
<rect x="792" y="200" width="3" height="10" fill="#e8475a"/>
<rect x="797" y="184" width="1" height="19" fill="#4cb27f"/>
<rect x="796" y="199" width="3" height="4" fill="#4cb27f"/>
<rect x="801" y="198" width="1" height="13" fill="#4cb27f"/>
<rect x="800" y="203" width="3" height="3" fill="#4cb27f"/>
<rect x="805" y="203" width="1" height="12" fill="#4cb27f"/>
<rect x="804" y="205" width="3" height="4" fill="#4cb27f"/>
<rect x="809" y="203" width="1" height="14" fill="#4cb27f"/>
<rect x="808" y="208" width="3" height="2" fill="#4cb27f"/>
<rect x="813" y="199" width="1" height="11" fill="#e8475a"/>
<rect x="812" y="201" width="3" height="9" fill="#e8475a"/>
<rect x="817" y="193" width="1" height="21" fill="#4cb27f"/>
<rect x="816" y="197" width="3" height="16" fill="#4cb27f"/>
<rect x="821" y="189" width="1" height="24" fill="#e8475a"/>
<rect x="820" y="192" width="3" height="21" fill="#e8475a"/>
<rect x="825" y="160" width="1" height="32" fill="#e8475a"/>
<rect x="824" y="167" width="3" height="25" fill="#e8475a"/>
<rect x="829" y="152" width="1" height="23" fill="#e8475a"/>
<rect x="828" y="155" width="3" height="12" fill="#e8475a"/>
<rect x="833" y="153" width="1" height="21" fill="#4cb27f"/>
<rect x="832" y="155" width="3" height="11" fill="#4cb27f"/>
<rect x="837" y="162" width="1" height="29" fill="#4cb27f"/>
<rect x="836" y="166" width="3" height="24" fill="#4cb27f"/>
<rect x="841" y="182" width="1" height="25" fill="#4cb27f"/>
<rect x="840" y="193" width="3" height="8" fill="#4cb27f"/>
<rect x="845" y="196" width="1" height="16" fill="#4cb27f"/>
<rect x="844" y="200" width="3" height="12" fill="#4cb27f"/>
<rect x="849" y="196" width="1" height="31" fill="#4cb27f"/>
<rect x="848" y="212" width="3" height="10" fill="#4cb27f"/>
<rect x="853" y="211" width="1" height="16" fill="#4cb27f"/>
<rect x="852" y="221" width="3" height="6" fill="#4cb27f"/>
<rect x="857" y="217" width="1" height="19" fill="#4cb27f"/>
<rect x="856" y="226" width="3" height="9" fill="#4cb27f"/>
<rect x="861" y="219" width="1" height="16" fill="#e8475a"/>
<rect x="860" y="224" width="3" height="7" fill="#e8475a"/>
<rect x="865" y="220" width="1" height="16" fill="#4cb27f"/>
<rect x="864" y="224" width="3" height="12" fill="#4cb27f"/>
<rect x="869" y="231" width="1" height="10" fill="#4cb27f"/>
<rect x="868" y="235" width="3" height="4" fill="#4cb27f"/></g>
  <g shape-rendering="crispEdges"><rect x="93" y="414" width="1" height="1" fill="#e8475a"/>
<rect x="97" y="414" width="1" height="4" fill="#4cb27f"/>
<rect x="101" y="414" width="1" height="6" fill="#4cb27f"/>
<rect x="105" y="414" width="1" height="6" fill="#4cb27f"/>
<rect x="109" y="414" width="1" height="9" fill="#4cb27f"/>
<rect x="113" y="414" width="1" height="5" fill="#4cb27f"/>
<rect x="117" y="414" width="1" height="3" fill="#4cb27f"/>
<rect x="121" y="414" width="1" height="1" fill="#4cb27f"/>
<rect x="125" y="412" width="1" height="2" fill="#e8475a"/>
<rect x="129" y="407" width="1" height="7" fill="#e8475a"/>
<rect x="133" y="409" width="1" height="5" fill="#e8475a"/>
<rect x="137" y="410" width="1" height="4" fill="#e8475a"/>
<rect x="141" y="412" width="1" height="2" fill="#e8475a"/>
<rect x="145" y="412" width="1" height="2" fill="#e8475a"/>
<rect x="149" y="414" width="1" height="1" fill="#4cb27f"/>
<rect x="153" y="414" width="1" height="1" fill="#4cb27f"/>
<rect x="157" y="412" width="1" height="2" fill="#e8475a"/>
<rect x="161" y="412" width="1" height="2" fill="#e8475a"/>
<rect x="165" y="413" width="1" height="1" fill="#e8475a"/>
<rect x="169" y="414" width="1" height="2" fill="#4cb27f"/>
<rect x="173" y="414" width="1" height="1" fill="#4cb27f"/>
<rect x="177" y="414" width="1" height="1" fill="#4cb27f"/>
<rect x="181" y="410" width="1" height="4" fill="#e8475a"/>
<rect x="185" y="407" width="1" height="7" fill="#e8475a"/>
<rect x="189" y="404" width="1" height="10" fill="#e8475a"/>
<rect x="193" y="403" width="1" height="11" fill="#e8475a"/>
<rect x="197" y="405" width="1" height="9" fill="#e8475a"/>
<rect x="201" y="407" width="1" height="7" fill="#e8475a"/>
<rect x="205" y="409" width="1" height="5" fill="#e8475a"/>
<rect x="209" y="410" width="1" height="4" fill="#e8475a"/>
<rect x="213" y="411" width="1" height="3" fill="#e8475a"/>
<rect x="217" y="410" width="1" height="4" fill="#e8475a"/>
<rect x="221" y="411" width="1" height="3" fill="#e8475a"/>
<rect x="225" y="410" width="1" height="4" fill="#e8475a"/>
<rect x="229" y="408" width="1" height="6" fill="#e8475a"/>
<rect x="233" y="406" width="1" height="8" fill="#e8475a"/>
<rect x="237" y="402" width="1" height="12" fill="#e8475a"/>
<rect x="241" y="399" width="1" height="15" fill="#e8475a"/>
<rect x="245" y="399" width="1" height="15" fill="#e8475a"/>
<rect x="249" y="397" width="1" height="17" fill="#e8475a"/>
<rect x="253" y="400" width="1" height="14" fill="#e8475a"/>
<rect x="257" y="401" width="1" height="13" fill="#e8475a"/>
<rect x="261" y="397" width="1" height="17" fill="#e8475a"/>
<rect x="265" y="392" width="1" height="22" fill="#e8475a"/>
<rect x="269" y="394" width="1" height="20" fill="#e8475a"/>
<rect x="273" y="391" width="1" height="23" fill="#e8475a"/>
<rect x="277" y="394" width="1" height="20" fill="#e8475a"/>
<rect x="281" y="399" width="1" height="15" fill="#e8475a"/>
<rect x="285" y="405" width="1" height="9" fill="#e8475a"/>
<rect x="289" y="411" width="1" height="3" fill="#e8475a"/>
<rect x="293" y="414" width="1" height="2" fill="#4cb27f"/>
<rect x="297" y="414" width="1" height="8" fill="#4cb27f"/>
<rect x="301" y="414" width="1" height="11" fill="#4cb27f"/>
<rect x="305" y="414" width="1" height="16" fill="#4cb27f"/>
<rect x="309" y="414" width="1" height="16" fill="#4cb27f"/>
<rect x="313" y="414" width="1" height="19" fill="#4cb27f"/>
<rect x="317" y="414" width="1" height="19" fill="#4cb27f"/>
<rect x="321" y="414" width="1" height="17" fill="#4cb27f"/>
<rect x="325" y="414" width="1" height="18" fill="#4cb27f"/>
<rect x="329" y="414" width="1" height="17" fill="#4cb27f"/>
<rect x="333" y="414" width="1" height="19" fill="#4cb27f"/>
<rect x="337" y="414" width="1" height="21" fill="#4cb27f"/>
<rect x="341" y="414" width="1" height="20" fill="#4cb27f"/>
<rect x="345" y="414" width="1" height="15" fill="#4cb27f"/>
<rect x="349" y="414" width="1" height="10" fill="#4cb27f"/>
<rect x="353" y="414" width="1" height="10" fill="#4cb27f"/>
<rect x="357" y="414" width="1" height="9" fill="#4cb27f"/>
<rect x="361" y="414" width="1" height="10" fill="#4cb27f"/>
<rect x="365" y="414" width="1" height="8" fill="#4cb27f"/>
<rect x="369" y="414" width="1" height="5" fill="#4cb27f"/>
<rect x="373" y="414" width="1" height="3" fill="#4cb27f"/>
<rect x="377" y="414" width="1" height="1" fill="#4cb27f"/>
<rect x="381" y="414" width="1" height="3" fill="#4cb27f"/>
<rect x="385" y="414" width="1" height="3" fill="#4cb27f"/>
<rect x="389" y="414" width="1" height="6" fill="#4cb27f"/>
<rect x="393" y="414" width="1" height="8" fill="#4cb27f"/>
<rect x="397" y="414" width="1" height="6" fill="#4cb27f"/>
<rect x="401" y="414" width="1" height="5" fill="#4cb27f"/>
<rect x="405" y="414" width="1" height="6" fill="#4cb27f"/>
<rect x="409" y="414" width="1" height="8" fill="#4cb27f"/>
<rect x="413" y="414" width="1" height="11" fill="#4cb27f"/>
<rect x="417" y="414" width="1" height="13" fill="#4cb27f"/>
<rect x="421" y="414" width="1" height="11" fill="#4cb27f"/>
<rect x="425" y="414" width="1" height="11" fill="#4cb27f"/>
<rect x="429" y="414" width="1" height="9" fill="#4cb27f"/>
<rect x="433" y="414" width="1" height="5" fill="#4cb27f"/>
<rect x="437" y="414" width="1" height="3" fill="#4cb27f"/>
<rect x="441" y="414" width="1" height="1" fill="#4cb27f"/>
<rect x="445" y="412" width="1" height="2" fill="#e8475a"/>
<rect x="449" y="412" width="1" height="2" fill="#e8475a"/>
<rect x="453" y="411" width="1" height="3" fill="#e8475a"/>
<rect x="457" y="407" width="1" height="7" fill="#e8475a"/>
<rect x="461" y="405" width="1" height="9" fill="#e8475a"/>
<rect x="465" y="402" width="1" height="12" fill="#e8475a"/>
<rect x="469" y="400" width="1" height="14" fill="#e8475a"/>
<rect x="473" y="398" width="1" height="16" fill="#e8475a"/>
<rect x="477" y="397" width="1" height="17" fill="#e8475a"/>
<rect x="481" y="399" width="1" height="15" fill="#e8475a"/>
<rect x="485" y="396" width="1" height="18" fill="#e8475a"/>
<rect x="489" y="395" width="1" height="19" fill="#e8475a"/>
<rect x="493" y="396" width="1" height="18" fill="#e8475a"/>
<rect x="497" y="406" width="1" height="8" fill="#e8475a"/>
<rect x="501" y="414" width="1" height="8" fill="#4cb27f"/>
<rect x="505" y="414" width="1" height="19" fill="#4cb27f"/>
<rect x="509" y="414" width="1" height="31" fill="#4cb27f"/>
<rect x="513" y="414" width="1" height="28" fill="#4cb27f"/>
<rect x="517" y="414" width="1" height="29" fill="#4cb27f"/>
<rect x="521" y="414" width="1" height="25" fill="#4cb27f"/>
<rect x="525" y="414" width="1" height="21" fill="#4cb27f"/>
<rect x="529" y="414" width="1" height="17" fill="#4cb27f"/>
<rect x="533" y="414" width="1" height="12" fill="#4cb27f"/>
<rect x="537" y="414" width="1" height="4" fill="#4cb27f"/>
<rect x="541" y="414" width="1" height="1" fill="#4cb27f"/>
<rect x="545" y="410" width="1" height="4" fill="#e8475a"/>
<rect x="549" y="409" width="1" height="5" fill="#e8475a"/>
<rect x="553" y="408" width="1" height="6" fill="#e8475a"/>
<rect x="557" y="406" width="1" height="8" fill="#e8475a"/>
<rect x="561" y="407" width="1" height="7" fill="#e8475a"/>
<rect x="565" y="412" width="1" height="2" fill="#e8475a"/>
<rect x="569" y="414" width="1" height="4" fill="#4cb27f"/>
<rect x="573" y="414" width="1" height="5" fill="#4cb27f"/>
<rect x="577" y="414" width="1" height="7" fill="#4cb27f"/>
<rect x="581" y="414" width="1" height="9" fill="#4cb27f"/>
<rect x="585" y="414" width="1" height="6" fill="#4cb27f"/>
<rect x="589" y="414" width="1" height="5" fill="#4cb27f"/>
<rect x="593" y="414" width="1" height="1" fill="#4cb27f"/>
<rect x="597" y="407" width="1" height="7" fill="#e8475a"/>
<rect x="601" y="401" width="1" height="13" fill="#e8475a"/>
<rect x="605" y="395" width="1" height="19" fill="#e8475a"/>
<rect x="609" y="393" width="1" height="21" fill="#e8475a"/>
<rect x="613" y="394" width="1" height="20" fill="#e8475a"/>
<rect x="617" y="396" width="1" height="18" fill="#e8475a"/>
<rect x="621" y="397" width="1" height="17" fill="#e8475a"/>
<rect x="625" y="398" width="1" height="16" fill="#e8475a"/>
<rect x="629" y="401" width="1" height="13" fill="#e8475a"/>
<rect x="633" y="404" width="1" height="10" fill="#e8475a"/>
<rect x="637" y="405" width="1" height="9" fill="#e8475a"/>
<rect x="641" y="406" width="1" height="8" fill="#e8475a"/>
<rect x="645" y="408" width="1" height="6" fill="#e8475a"/>
<rect x="649" y="407" width="1" height="7" fill="#e8475a"/>
<rect x="653" y="409" width="1" height="5" fill="#e8475a"/>
<rect x="657" y="411" width="1" height="3" fill="#e8475a"/>
<rect x="661" y="407" width="1" height="7" fill="#e8475a"/>
<rect x="665" y="405" width="1" height="9" fill="#e8475a"/>
<rect x="669" y="404" width="1" height="10" fill="#e8475a"/>
<rect x="673" y="404" width="1" height="10" fill="#e8475a"/>
<rect x="677" y="401" width="1" height="13" fill="#e8475a"/>
<rect x="681" y="398" width="1" height="16" fill="#e8475a"/>
<rect x="685" y="399" width="1" height="15" fill="#e8475a"/>
<rect x="689" y="393" width="1" height="21" fill="#e8475a"/>
<rect x="693" y="389" width="1" height="25" fill="#e8475a"/>
<rect x="697" y="379" width="1" height="35" fill="#e8475a"/>
<rect x="701" y="379" width="1" height="35" fill="#e8475a"/>
<rect x="705" y="376" width="1" height="38" fill="#e8475a"/>
<rect x="709" y="378" width="1" height="36" fill="#e8475a"/>
<rect x="713" y="380" width="1" height="34" fill="#e8475a"/>
<rect x="717" y="383" width="1" height="31" fill="#e8475a"/>
<rect x="721" y="401" width="1" height="13" fill="#e8475a"/>
<rect x="725" y="414" width="1" height="4" fill="#4cb27f"/>
<rect x="729" y="414" width="1" height="16" fill="#4cb27f"/>
<rect x="733" y="414" width="1" height="22" fill="#4cb27f"/>
<rect x="737" y="414" width="1" height="25" fill="#4cb27f"/>
<rect x="741" y="414" width="1" height="27" fill="#4cb27f"/>
<rect x="745" y="414" width="1" height="26" fill="#4cb27f"/>
<rect x="749" y="414" width="1" height="20" fill="#4cb27f"/>
<rect x="753" y="414" width="1" height="17" fill="#4cb27f"/>
<rect x="757" y="414" width="1" height="15" fill="#4cb27f"/>
<rect x="761" y="414" width="1" height="11" fill="#4cb27f"/>
<rect x="765" y="414" width="1" height="7" fill="#4cb27f"/>
<rect x="769" y="414" width="1" height="5" fill="#4cb27f"/>
<rect x="773" y="414" width="1" height="6" fill="#4cb27f"/>
<rect x="777" y="414" width="1" height="2" fill="#4cb27f"/>
<rect x="781" y="414" width="1" height="4" fill="#4cb27f"/>
<rect x="785" y="414" width="1" height="5" fill="#4cb27f"/>
<rect x="789" y="414" width="1" height="6" fill="#4cb27f"/>
<rect x="793" y="414" width="1" height="8" fill="#4cb27f"/>
<rect x="797" y="414" width="1" height="8" fill="#4cb27f"/>
<rect x="801" y="414" width="1" height="9" fill="#4cb27f"/>
<rect x="805" y="414" width="1" height="10" fill="#4cb27f"/>
<rect x="809" y="414" width="1" height="10" fill="#4cb27f"/>
<rect x="813" y="414" width="1" height="8" fill="#4cb27f"/>
<rect x="817" y="414" width="1" height="8" fill="#4cb27f"/>
<rect x="821" y="414" width="1" height="4" fill="#4cb27f"/>
<rect x="825" y="411" width="1" height="3" fill="#e8475a"/>
<rect x="829" y="404" width="1" height="10" fill="#e8475a"/>
<rect x="833" y="402" width="1" height="12" fill="#e8475a"/>
<rect x="837" y="406" width="1" height="8" fill="#e8475a"/>
<rect x="841" y="411" width="1" height="3" fill="#e8475a"/>
<rect x="845" y="414" width="1" height="3" fill="#4cb27f"/>
<rect x="849" y="414" width="1" height="8" fill="#4cb27f"/>
<rect x="853" y="414" width="1" height="11" fill="#4cb27f"/>
<rect x="857" y="414" width="1" height="14" fill="#4cb27f"/>
<rect x="861" y="414" width="1" height="14" fill="#4cb27f"/>
<rect x="865" y="414" width="1" height="15" fill="#4cb27f"/>
<rect x="869" y="414" width="1" height="15" fill="#4cb27f"/>
<polyline points="93.5,418.6 97.5,419.1 101.5,420.0 105.5,420.8 109.5,422.0 113.5,422.8 117.5,423.1 121.5,423.3 125.5,423.1 129.5,422.3 133.5,421.7 137.5,421.3 141.5,421.0 145.5,420.8 149.5,420.9 153.5,421.0 157.5,420.8 161.5,420.6 165.5,420.4 169.5,420.7 173.5,421.0 177.5,421.1 181.5,420.6 185.5,419.8 189.5,418.6 193.5,417.3 197.5,416.3 201.5,415.4 205.5,414.9 209.5,414.4 213.5,414.1 217.5,413.6 221.5,413.3 225.5,412.9 229.5,412.2 233.5,411.3 237.5,409.9 241.5,408.1 245.5,406.2 249.5,404.2 253.5,402.5 257.5,400.9 261.5,398.9 265.5,396.2 269.5,393.7 273.5,390.9 277.5,388.5 281.5,386.6 285.5,385.6 289.5,385.3 293.5,385.5 297.5,386.6 301.5,388.0 305.5,390.0 309.5,392.2 313.5,394.7 317.5,397.1 321.5,399.3 325.5,401.6 329.5,403.8 333.5,406.3 337.5,409.0 341.5,411.5 345.5,413.5 349.5,414.8 353.5,416.1 357.5,417.3 361.5,418.5 365.5,419.6 369.5,420.3 373.5,420.7 377.5,420.8 381.5,421.2 385.5,421.6 389.5,422.4 393.5,423.4 397.5,424.3 401.5,424.9 405.5,425.8 409.5,426.8 413.5,428.3 417.5,430.0 421.5,431.4 425.5,432.9 429.5,434.1 433.5,434.8 437.5,435.3 441.5,435.5 445.5,435.3 449.5,435.1 453.5,434.8 457.5,434.0 461.5,432.9 465.5,431.5 469.5,429.8 473.5,427.9 477.5,425.8 481.5,424.0 485.5,421.9 489.5,419.6 493.5,417.5 497.5,416.6 501.5,417.6 505.5,420.1 509.5,424.1 513.5,427.7 517.5,431.4 521.5,434.6 525.5,437.3 529.5,439.5 533.5,441.0 537.5,441.6 541.5,441.7 545.5,441.2 549.5,440.7 553.5,440.0 557.5,439.1 561.5,438.3 565.5,438.0 569.5,438.6 573.5,439.3 577.5,440.2 581.5,441.4 585.5,442.3 589.5,443.0 593.5,443.0 597.5,442.2 601.5,440.7 605.5,438.4 609.5,435.7 613.5,433.3 617.5,431.1 621.5,429.0 625.5,427.0 629.5,425.4 633.5,424.2 637.5,423.1 641.5,422.2 645.5,421.5 649.5,420.7 653.5,420.2 657.5,419.9 661.5,419.1 665.5,418.0 669.5,416.8 673.5,415.6 677.5,414.0 681.5,412.1 685.5,410.3 689.5,407.7 693.5,404.6 697.5,400.4 701.5,396.0 705.5,391.3 709.5,386.8 713.5,382.6 717.5,378.8 721.5,377.3 725.5,377.9 729.5,379.9 733.5,382.7 737.5,386.0 741.5,389.4 745.5,392.7 749.5,395.3 753.5,397.5 757.5,399.4 761.5,400.8 765.5,401.8 769.5,402.4 773.5,403.2 777.5,403.5 781.5,404.1 785.5,404.9 789.5,405.7 793.5,406.7 797.5,407.8 801.5,409.0 805.5,410.3 809.5,411.6 813.5,412.6 817.5,413.7 821.5,414.3 825.5,414.0 829.5,412.8 833.5,411.4 837.5,410.5 841.5,410.3 845.5,410.6 849.5,411.6 853.5,413.1 857.5,415.0 861.5,416.8 865.5,418.7 869.5,420.6" fill="none" stroke="#45c07a" stroke-width="1.0" stroke-linejoin="round" />
<polyline points="93.5,418.6 97.5,421.4 101.5,423.4 105.5,424.2 109.5,426.8 113.5,425.7 117.5,424.6 121.5,424.1 125.5,422.1 129.5,419.1 133.5,419.3 137.5,419.6 141.5,420.1 145.5,420.1 149.5,421.1 153.5,421.6 157.5,419.8 161.5,419.7 165.5,420.0 169.5,421.9 173.5,422.0 177.5,421.5 181.5,418.6 185.5,416.8 189.5,413.9 193.5,412.2 197.5,411.9 201.5,412.1 205.5,412.7 209.5,412.6 213.5,412.7 217.5,411.9 221.5,411.9 225.5,411.2 229.5,409.7 233.5,407.6 237.5,404.4 241.5,400.8 245.5,398.8 249.5,396.1 253.5,395.8 257.5,394.5 261.5,390.8 265.5,385.3 269.5,383.7 273.5,379.9 277.5,378.8 281.5,379.2 285.5,381.5 289.5,383.8 293.5,386.7 297.5,390.7 301.5,393.7 305.5,398.2 309.5,400.7 313.5,404.6 317.5,406.9 321.5,408.0 325.5,411.0 329.5,412.7 333.5,416.2 337.5,419.7 341.5,421.6 345.5,421.2 349.5,420.0 353.5,421.3 357.5,422.0 361.5,423.6 365.5,423.7 369.5,423.2 373.5,422.2 377.5,421.0 381.5,422.8 385.5,423.1 389.5,425.6 393.5,427.7 397.5,427.6 401.5,427.6 405.5,429.3 409.5,431.0 413.5,434.2 417.5,436.6 421.5,437.3 425.5,438.8 429.5,439.1 433.5,437.5 437.5,437.2 441.5,436.1 445.5,434.7 449.5,434.5 453.5,433.5 457.5,430.8 461.5,428.7 465.5,425.7 469.5,423.1 473.5,420.1 477.5,417.7 481.5,416.9 485.5,413.1 489.5,410.6 493.5,409.0 497.5,413.1 501.5,421.7 505.5,430.1 509.5,440.1 513.5,441.9 517.5,446.2 521.5,447.5 525.5,448.0 529.5,448.2 533.5,447.3 537.5,444.0 541.5,441.9 545.5,439.4 549.5,438.6 553.5,437.2 557.5,435.3 561.5,435.2 565.5,437.0 569.5,440.7 573.5,442.3 577.5,443.9 581.5,446.3 585.5,445.6 589.5,446.0 593.5,443.1 597.5,438.9 601.5,434.7 605.5,429.0 609.5,425.2 613.5,423.8 617.5,422.1 621.5,420.5 625.5,419.1 629.5,419.0 633.5,419.6 637.5,418.7 641.5,418.3 645.5,418.6 649.5,417.6 653.5,418.1 657.5,418.6 661.5,416.1 665.5,413.7 669.5,412.1 673.5,410.7 677.5,407.6 681.5,404.6 685.5,403.0 689.5,397.3 693.5,392.4 697.5,383.3 701.5,378.6 705.5,372.5 709.5,369.0 713.5,365.7 717.5,363.6 721.5,371.2 725.5,380.2 729.5,387.9 733.5,393.9 737.5,398.9 741.5,403.2 745.5,406.0 749.5,405.8 753.5,406.0 757.5,407.3 761.5,406.4 765.5,405.5 769.5,404.9 773.5,406.2 777.5,404.9 781.5,406.5 785.5,407.8 789.5,409.1 793.5,410.7 797.5,412.2 801.5,413.8 805.5,415.4 809.5,416.7 813.5,416.7 817.5,418.0 821.5,416.7 825.5,412.7 829.5,408.2 833.5,405.9 837.5,407.0 841.5,409.1 845.5,412.1 849.5,415.7 853.5,419.0 857.5,422.5 861.5,423.9 865.5,426.2 869.5,428.2" fill="none" stroke="#3a86f2" stroke-width="1.0" stroke-linejoin="round" /></g>
  <g shape-rendering="crispEdges"><polyline points="93.5,549.1 97.5,549.7 101.5,537.3 105.5,493.4 109.5,540.4 113.5,491.3 117.5,491.3 121.5,506.2 125.5,482.3 129.5,475.3 133.5,528.2 137.5,530.7 141.5,534.6 145.5,517.8 149.5,542.0 153.5,532.3 157.5,480.2 161.5,517.3 165.5,526.2 169.5,543.4 173.5,507.4 177.5,497.6 181.5,477.3 185.5,493.7 189.5,480.3 193.5,503.4 197.5,529.7 201.5,535.7 205.5,542.6 209.5,505.7 213.5,513.6 217.5,483.0 221.5,517.7 225.5,491.7 229.5,478.2 233.5,473.9 237.5,471.4 241.5,470.7 245.5,502.6 249.5,483.9 253.5,523.1 257.5,498.0 261.5,478.9 265.5,473.8 269.5,512.5 273.5,489.6 277.5,512.1 281.5,523.4 285.5,538.7 289.5,540.5 293.5,545.7 297.5,550.0 301.5,530.6 305.5,546.3 309.5,510.2 313.5,535.6 317.5,510.9 321.5,496.2 325.5,533.9 329.5,515.8 333.5,540.4 337.5,544.5 341.5,516.9 345.5,485.8 349.5,480.0 353.5,529.0 357.5,522.0 361.5,538.5 365.5,504.6 369.5,494.0 373.5,484.9 377.5,479.5 381.5,541.7 385.5,515.7 389.5,539.4 393.5,541.5 397.5,498.4 401.5,506.4 405.5,538.6 409.5,542.8 413.5,549.4 417.5,549.6 421.5,507.3 425.5,534.1 429.5,508.9 433.5,484.4 437.5,519.5 441.5,503.7 445.5,494.4 449.5,532.0 453.5,507.6 457.5,481.2 461.5,492.4 465.5,478.7 469.5,477.8 473.5,472.8 477.5,483.7 481.5,532.6 485.5,482.2 489.5,493.2 493.5,507.3 497.5,547.0 501.5,550.5 505.5,551.0 509.5,551.8 513.5,500.0 517.5,521.5 521.5,506.1 525.5,504.7 529.5,508.3 533.5,491.8 537.5,474.9 541.5,504.6 545.5,493.4 549.5,530.4 553.5,510.7 557.5,496.8 561.5,536.0 565.5,546.8 569.5,550.1 573.5,525.2 577.5,533.9 581.5,544.6 585.5,497.7 589.5,520.7 593.5,487.4 597.5,480.3 601.5,477.5 605.5,472.9 609.5,498.7 613.5,529.1 617.5,517.6 621.5,507.7 625.5,501.3 629.5,540.8 633.5,546.4 637.5,497.6 641.5,511.8 645.5,530.6 649.5,492.7 653.5,528.8 657.5,531.1 661.5,480.6 665.5,478.3 669.5,496.5 673.5,489.9 677.5,473.8 681.5,472.5 685.5,506.1 689.5,475.5 693.5,474.5 697.5,471.0 701.5,500.8 705.5,485.6 709.5,500.5 713.5,489.4 717.5,487.9 721.5,547.1 725.5,549.0 729.5,549.2 733.5,537.3 737.5,538.7 741.5,540.8 745.5,497.9 749.5,474.4 753.5,489.0 757.5,520.6 761.5,486.9 765.5,483.5 769.5,483.5 773.5,538.6 777.5,491.2 781.5,526.7 785.5,528.1 789.5,530.4 793.5,541.1 797.5,544.3 801.5,548.0 805.5,550.1 809.5,550.6 813.5,486.6 817.5,531.7 821.5,487.7 825.5,476.3 829.5,473.9 833.5,504.4 837.5,535.6 841.5,541.9 845.5,546.4 849.5,549.0 853.5,550.0 857.5,551.2 861.5,506.4 865.5,531.6 869.5,536.4" fill="none" stroke="#2aa7dc" stroke-width="1.0" stroke-linejoin="round" />
<polyline points="93.5,518.6 97.5,519.2 101.5,518.7 105.5,516.0 109.5,521.6 113.5,511.7 117.5,511.7 121.5,512.7 125.5,508.5 129.5,504.9 133.5,512.7 137.5,513.3 141.5,513.9 145.5,513.1 149.5,516.1 153.5,515.7 157.5,508.6 161.5,512.8 165.5,514.1 169.5,518.6 173.5,514.5 177.5,513.0 181.5,506.4 185.5,507.8 189.5,504.4 193.5,506.3 197.5,509.5 201.5,510.5 205.5,512.0 209.5,510.1 213.5,510.5 217.5,507.9 221.5,510.0 225.5,507.7 229.5,504.4 233.5,501.8 237.5,497.7 241.5,495.1 245.5,498.6 249.5,495.7 253.5,502.2 257.5,499.3 261.5,494.1 265.5,490.3 269.5,498.1 273.5,494.2 277.5,498.4 281.5,500.6 285.5,504.8 289.5,505.3 293.5,507.1 297.5,510.5 301.5,509.7 305.5,514.1 309.5,511.2 313.5,515.4 317.5,513.0 321.5,511.3 325.5,515.8 329.5,514.3 333.5,518.6 337.5,520.1 341.5,518.1 345.5,513.1 349.5,511.1 353.5,516.3 357.5,515.7 361.5,518.1 365.5,515.2 369.5,513.9 373.5,512.6 377.5,511.6 381.5,518.5 385.5,515.7 389.5,520.6 393.5,521.2 397.5,516.4 401.5,516.9 405.5,520.8 409.5,521.9 413.5,525.7 417.5,525.9 421.5,522.6 425.5,525.0 429.5,522.5 433.5,517.5 437.5,520.3 441.5,518.4 445.5,517.3 449.5,520.0 453.5,518.0 457.5,512.4 461.5,513.1 465.5,509.6 469.5,509.3 473.5,506.5 477.5,507.0 481.5,510.7 485.5,502.4 489.5,503.7 493.5,504.9 497.5,519.1 501.5,527.4 505.5,529.3 509.5,532.8 513.5,520.1 517.5,523.5 521.5,520.5 525.5,520.3 529.5,520.5 533.5,519.2 537.5,514.6 541.5,516.0 545.5,514.9 549.5,517.4 553.5,516.1 557.5,515.0 561.5,518.0 565.5,521.6 569.5,525.0 573.5,522.6 577.5,523.6 581.5,525.7 585.5,520.0 589.5,521.9 593.5,515.2 597.5,512.2 601.5,510.8 605.5,507.0 609.5,508.7 613.5,512.0 617.5,511.3 621.5,510.8 625.5,510.5 629.5,513.3 633.5,514.9 637.5,511.5 641.5,512.4 645.5,513.9 649.5,511.0 653.5,514.3 657.5,514.6 661.5,507.1 665.5,506.0 669.5,507.1 673.5,506.5 677.5,501.7 681.5,500.2 685.5,502.7 689.5,494.3 693.5,493.5 697.5,487.4 701.5,493.6 705.5,490.7 709.5,493.0 713.5,491.9 717.5,491.8 721.5,510.8 725.5,514.7 729.5,515.0 733.5,514.4 737.5,514.6 741.5,514.8 745.5,513.5 749.5,508.5 753.5,509.2 757.5,511.2 761.5,507.5 765.5,506.8 769.5,506.8 773.5,511.1 777.5,506.0 781.5,511.5 785.5,511.7 789.5,512.0 793.5,513.3 797.5,513.9 801.5,514.7 805.5,515.6 809.5,515.9 813.5,512.8 817.5,516.4 821.5,509.4 825.5,502.8 829.5,500.1 833.5,503.6 837.5,510.9 841.5,513.7 845.5,516.3 849.5,518.6 853.5,519.7 857.5,521.4 861.5,518.0 865.5,520.5 869.5,521.2" fill="none" stroke="#45c07a" stroke-width="1.0" stroke-linejoin="round" /></g>

  <!-- markers -->
  <g stroke="#111" stroke-width="1.2" shape-rendering="crispEdges">
    <path d="M111 196.5H118M113.5 194V199"/>
    <path d="M271 54.5H278M273.5 52V57"/>
    <path d="M511 321.5H518M513.5 319V324"/>
    <path d="M719 65.5H726M721.5 63V68"/>
  </g>
  <g font-size="12" font-weight="bold">
    <text x="118" y="208" fill="#44b08a">66.53</text>
    <text x="518" y="333" fill="#44b08a">55.12</text>
    <text x="278" y="51" fill="#e8475a">79.39</text>
    <text x="726" y="62" fill="#e8475a">78.40</text>
    <text x="951" y="199" fill="#ff0a0a" text-anchor="end">65.86</text>
    <text x="951" y="267" fill="#ff0a0a" text-anchor="end">59.74</text>
  </g>
  <!-- left axis labels -->
  <g font-size="12" fill="#2e3a4a" text-anchor="end">
    <text x="87" y="25">82.30</text><text x="87" y="89">76.49</text><text x="87" y="153">70.67</text>
    <text x="87" y="217">64.85</text><text x="87" y="281">59.03</text>
    <text x="87" y="367">3.12</text><text x="87" y="395">1.36</text><text x="87" y="424">-0.41</text>
    <text x="87" y="475">99.06</text><text x="87" y="502">66.30</text><text x="87" y="529">33.53</text>
  </g>
  <g font-size="12" fill="#2e3a4a">
    <text x="954" y="25">82.30</text><text x="954" y="89">76.49</text><text x="954" y="153">70.67</text>
    <text x="954" y="217">64.85</text><text x="954" y="281">59.03</text>
    <text x="954" y="367">3.12</text><text x="954" y="395">1.36</text><text x="954" y="424">-0.41</text>
    <text x="954" y="475">99.06</text><text x="954" y="502">66.30</text><text x="954" y="529">33.53</text>
  </g>
  <!-- right price boxes -->
  <g fill="#e9eef2"><rect x="1019" y="65" width="1" height="40"/><rect x="1019" y="111" width="1" height="16"/><rect x="1019" y="135" width="1" height="17"/></g>
  <rect x="951.5" y="162.5" width="68" height="17" fill="#fff" stroke="#dde4ec"/>
  <text x="953" y="175" font-size="12" fill="#f08a2c">69.53</text>
  <rect x="951.5" y="238.5" width="68" height="17" fill="#fff" stroke="#f5821f"/>
  <text x="953" y="251" font-size="12" fill="#f08a2c">62.66</text>
  <path d="M1014.5 230 L1018.5 234 L1010.5 234Z M1014.5 233.5 L1018.5 237.5 L1010.5 237.5Z" fill="#f5821f"/>

  <!-- legends -->
  <g font-size="12">
    <text x="92" y="14" fill="#111">美原油连续</text>
    <text x="153" y="14" fill="#f07d14">【日线】</text>
    <text x="233" y="14" fill="#111">EXPMA(10,20,50,100,200)</text>
    <text x="383" y="14" fill="#3a86f2">MA1:64.46</text>
    <text x="451" y="14" fill="#45c07a">MA2:65.39</text>
    <text x="520" y="14" fill="#35ade6">MA3:65.86</text>
    <text x="589" y="14" fill="#f5903f">MA4:66.18</text>
    <text x="658" y="14" fill="#e384e6">MA5:67.75</text>

    <text x="92" y="356" fill="#111">MACD(26,12,9)</text>
    <text x="183" y="356" fill="#3a86f2">DIFF:-0.92</text>
    <text x="248" y="356" fill="#45c07a">DEA:-0.44</text>
    <text x="312" y="356" fill="#35ade6">MACD:-0.97</text>

    <text x="92" y="464" fill="#111">RSI(14,14,2)</text>
    <text x="165" y="464" fill="#3a86f2">RSI1:37.20</text>
    <text x="233" y="464" fill="#45c07a">RSI2:37.20</text>
    <text x="300" y="464" fill="#35ade6">RSI3:13.82</text>
  </g>
  <!-- title icons -->
  <g fill="none" stroke="#f07d14" stroke-width="1">
    <circle cx="204.5" cy="11.5" r="4"/><path d="M200.5 11.5H208.5M204.5 7.5V15.5"/>
  </g>
  <rect x="218" y="2" width="12" height="12" fill="#a0a0a8"/>
  <rect x="217.5" y="1.5" width="11" height="11" fill="#fff" stroke="#10107a" stroke-width="1" shape-rendering="crispEdges"/>
  <path d="M218.5 8 L221.5 4.5 L223.5 7 L225.5 5 L228 5" stroke="#f01010" fill="none" stroke-width="1.1"/>
  <path d="M218.5 10.5 L221.5 7 L223.5 9.5 L225.5 7.5 L228 7.5" stroke="#1030f0" fill="none" stroke-width="1.1"/>
  <!-- top right icons -->
  <g stroke="#1a6fc9" fill="none">
    <rect x="888.5" y="1.5" width="13" height="13"/>
    <rect x="904.5" y="1.5" width="13" height="13"/>
    <rect x="920" y="1" width="14" height="14" fill="#1a6fc9" stroke="none"/>
    <rect x="936.5" y="1.5" width="13" height="13"/>
  </g>
  <g fill="#1a6fc9">
    <rect x="894" y="3" width="2" height="3"/><rect x="894" y="7" width="2" height="2"/><rect x="894" y="10" width="2" height="3"/>
    <rect x="890" y="7" width="3" height="2"/><rect x="897" y="7" width="3" height="2"/>
  </g>
  <g stroke="#1a6fc9" stroke-width="1" fill="none">
    <path d="M907.5 3.5V12.5H915.5M906 5L907.5 3.5L909 5M914 11L915.5 12.5L914 14"/>
    <path d="M910.5 5V10"/>
  </g>
  <path d="M914 5V10L911 7.5Z" fill="#1a6fc9"/>
  <g stroke="#fff" stroke-width="1" fill="none">
    <path d="M923.5 3.5V12.5H931.5M922 5L923.5 3.5L925 5M930 11L931.5 12.5L930 14"/>
    <path d="M926 5V10"/>
  </g>
  <path d="M927 5V10L930 7.5Z" fill="#fff"/>
  <g stroke="#1a6fc9" stroke-width="1" fill="none">
    <rect x="939.5" y="3.5" width="3" height="9"/>
    <path d="M942 8H946"/>
  </g>
  <path d="M945 5.5L948 8L945 10.5Z" fill="#1a6fc9"/>

  <!-- sun icon -->
  <g>
    <circle cx="29" cy="456.8" r="3.6" fill="#fff" stroke="#111" stroke-width="1"/>
    <circle cx="29" cy="456.8" r="1.9" fill="#ff0000"/>
    <g stroke="#ff0000" stroke-width="1.2" stroke-linecap="round">
      <path d="M28.5 450.3V451.6M28.5 461.8V463.2M22.4 456.8H23.8M34.2 456.8H35.6M23.5 451.5L24.5 452.5M33.6 451.5L32.6 452.5M23.5 462L24.5 461M33.6 462L32.6 461"/>
    </g>
  </g>
  <!-- date axis -->
  <g font-size="12" font-weight="bold" fill="#1f2a3a" letter-spacing="0.3">
    <text x="155" y="565">2024/12</text><text x="239" y="565">2025/01</text><text x="327" y="565">2025/02</text>
    <text x="407" y="565">2025/03</text><text x="491" y="565">2025/04</text><text x="575" y="565">2025/05</text>
    <text x="663" y="565">2025/06</text><text x="747" y="565">2025/07</text><text x="840" y="565">2025/08</text>
  </g>
  <text x="35" y="568" font-size="13" font-weight="bold" fill="#ff7300">日线</text>
  <path d="M64.5 567 L69 559 L73.5 567Z" fill="#ff7300"/>
  <!-- watermark -->
  <g font-size="31" letter-spacing="1.8">
    <text x="893" y="564.5" fill="#c4b2a2">FX678</text>
    <text x="892" y="563.5" fill="#d6e3f3">FX678</text>
  </g>
</svg>

<!-- tabs -->
<div class="tab on" style="left:20px;width:39px;font-family:'Liberation Sans',sans-serif;font-size:12px;">指标</div>
<div class="tab" style="left:59px;width:41px;font-family:'Liberation Sans',sans-serif;font-size:12px;">模板</div>
<div class="tab" style="left:100px;width:57px;color:#f07d14;"><i>VIP</i><span style="font-family:'Liberation Sans',sans-serif;font-size:12px">指标</span></div>
<div class="tab on" style="left:157px;width:47px;"><i>EXPMA</i></div>
<div class="tab" style="left:204px;width:27px;"><i>MA</i></div>
<div class="tab" style="left:231px;width:41px;"><i>MACD</i></div>
<div class="tab" style="left:272px;width:34px;"><i>CCI</i></div>
<div class="tab" style="left:306px;width:34px;"><i>KDJ</i></div>
<div class="tab" style="left:340px;width:33px;"><i>RSI</i></div>
<div class="tab" style="left:373px;width:28px;"><i>CR</i></div>
<div class="tab" style="left:401px;width:34px;"><i>PSY</i></div>
<div class="tab" style="left:435px;width:39px;"><i>BOLL</i></div>
<div class="tab" style="left:474px;width:36px;"><i>VOL</i></div>
<div class="tab" style="left:510px;width:100px;"><i>ICHIMOKU CLOUD</i></div>
<div class="tab" style="left:610px;width:39px;font-family:'Liberation Sans',sans-serif;font-size:12px;">设置</div>
</body></html>
